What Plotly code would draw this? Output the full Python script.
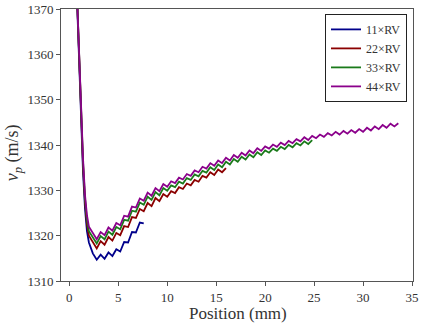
import plotly.graph_objects as go

# positions along the sample (mm)
position = [0.8, 1.0, 1.2, 1.4, 1.6, 1.8, 2.0,
            2.4, 2.8, 3.2, 3.6, 4.0, 4.4, 4.8, 5.2, 5.6, 6.0,
            6.4, 6.8, 7.2, 7.6, 8.0, 8.4, 8.8, 9.2, 9.6, 10.0,
            10.4, 10.8, 11.2, 11.6, 12.0, 12.4, 12.8, 13.2, 13.6, 14.0,
            14.4, 14.8, 15.2, 15.6, 16.0, 16.4, 16.8, 17.2, 17.6, 18.0,
            18.4, 18.8, 19.2, 19.6, 20.0, 20.4, 20.8, 21.2, 21.6, 22.0,
            22.4, 22.8, 23.2, 23.6, 24.0, 24.4, 24.8, 25.2, 25.6, 26.0,
            26.4, 26.8, 27.2, 27.6, 28.0, 28.4, 28.8, 29.2, 29.6, 30.0,
            30.4, 30.8, 31.2, 31.6, 32.0, 32.4, 32.8, 33.2, 33.6]

vp_11 = [1371, 1358, 1344, 1334, 1326, 1321, 1318.5,
         1316.1, 1314.7, 1315.8, 1314.9, 1316.3, 1315.5, 1317.0, 1316.5, 1318.6, 1318.5,
         1320.8, 1320.7, 1322.9, 1322.7]

vp_22 = [1372, 1359, 1345, 1335.5, 1327.5, 1322.5, 1320.0,
         1318.6, 1317.2, 1318.8, 1318.0, 1319.7, 1318.9, 1320.6, 1320.1, 1322.1, 1321.9,
         1324.1, 1323.9, 1325.9, 1325.4, 1327.2, 1326.5, 1328.3, 1327.6, 1329.2, 1328.6,
         1329.8, 1329.4, 1330.7, 1330.3, 1331.5, 1331.1, 1332.3, 1331.9, 1333.2, 1332.8,
         1334.0, 1333.4, 1334.6, 1334.0, 1334.9]

vp_33 = [1372, 1359.5, 1345.5, 1336.3, 1328.3, 1323.5, 1321.0,
         1319.7, 1318.3, 1319.9, 1319.2, 1320.9, 1320.2, 1321.9, 1321.4, 1323.5, 1323.3,
         1325.5, 1325.3, 1327.3, 1326.8, 1328.6, 1327.9, 1329.6, 1328.9, 1330.5, 1329.9,
         1331.1, 1330.7, 1331.9, 1331.5, 1332.7, 1332.3, 1333.5, 1333.1, 1334.3, 1333.9,
         1335.1, 1334.5, 1335.7, 1335.1, 1336.3, 1335.7, 1336.9, 1336.3, 1337.4, 1336.8,
         1337.9, 1337.3, 1338.4, 1337.8, 1338.8, 1338.3, 1339.2, 1338.7, 1339.6, 1339.1,
         1340.0, 1339.5, 1340.4, 1339.9, 1340.8, 1340.2, 1341.1]

vp_44 = [1372, 1360, 1346, 1337, 1329, 1324.5, 1322.0,
         1320.6, 1319.2, 1320.8, 1320.1, 1321.8, 1321.1, 1322.8, 1322.3, 1324.4, 1324.2,
         1326.4, 1326.2, 1328.2, 1327.7, 1329.5, 1328.8, 1330.5, 1329.8, 1331.4, 1330.8,
         1332.0, 1331.6, 1332.8, 1332.4, 1333.6, 1333.2, 1334.4, 1334.0, 1335.2, 1334.8,
         1336.0, 1335.4, 1336.6, 1336.0, 1337.2, 1336.6, 1337.8, 1337.2, 1338.3, 1337.7,
         1338.8, 1338.2, 1339.3, 1338.7, 1339.7, 1339.2, 1340.1, 1339.6, 1340.5, 1340.0,
         1340.9, 1340.4, 1341.3, 1340.8, 1341.7, 1341.1, 1342.0, 1341.5, 1342.3, 1341.8,
         1342.6, 1342.1, 1342.9, 1342.3, 1343.1, 1342.5, 1343.3, 1342.7, 1343.5, 1342.9,
         1343.8, 1343.2, 1344.1, 1343.5, 1344.4, 1343.8, 1344.7, 1344.1, 1344.8]

labels = ["11×RV", "22×RV", "33×RV", "44×RV"]
series = [vp_11, vp_22, vp_33, vp_44]
colors = ["#00008b", "#8b0000", "#1a7a1a", "#8b008b"]

font_name = "Liberation Serif"

fig = go.Figure()
for name, vals, col in zip(labels, series, colors):
    fig.add_trace(go.Scatter(x=position[:len(vals)], y=vals, mode="lines",
                             name=name, line=dict(color=col, width=1.8)))

axis_style = dict(showline=True, mirror=True, linecolor="#555555", linewidth=1,
                  ticks="outside", ticklen=4, tickcolor="#555555",
                  showgrid=False, zeroline=False, automargin=False,
                  tickfont=dict(family=font_name, size=13, color="#333333"))

fig.update_layout(
    width=436, height=327,
    margin=dict(l=61, r=23, t=9, b=46),
    plot_bgcolor="white", paper_bgcolor="white",
    font=dict(family=font_name, color="#333333"),
    xaxis=dict(range=[-0.85, 35.1], tickvals=[0, 5, 10, 15, 20, 25, 30, 35], **axis_style),
    yaxis=dict(range=[1310, 1370], tickvals=[1310, 1320, 1330, 1340, 1350, 1360, 1370],
               **axis_style),
    legend=dict(x=0.75, y=0.982, xanchor="left", yanchor="top",
                bordercolor="#222222", borderwidth=1, bgcolor="white",
                font=dict(family=font_name, size=12, color="#333333"),
                itemwidth=30, tracegroupgap=0),
    showlegend=True,
)

# axis titles as annotations so they sit where the reference has them
fig.add_annotation(text="Position (mm)", xref="paper", yref="paper", x=0.503, y=-0.12,
                   xanchor="center", yanchor="middle", showarrow=False,
                   font=dict(family=font_name, size=17, color="#333333"))
fig.add_annotation(text="<i>v</i><sub><i>p</i></sub> (m/s)", xref="paper", yref="paper",
                   x=-0.136, y=0.47, xanchor="center", yanchor="middle", textangle=-90,
                   showarrow=False, font=dict(family=font_name, size=18, color="#333333"))

# drop the browser's default 8px body margin so the figure fills the window
fig.write_html("out.html", config={"displayModeBar": False},
               post_script="document.body.style.margin = '0';")
